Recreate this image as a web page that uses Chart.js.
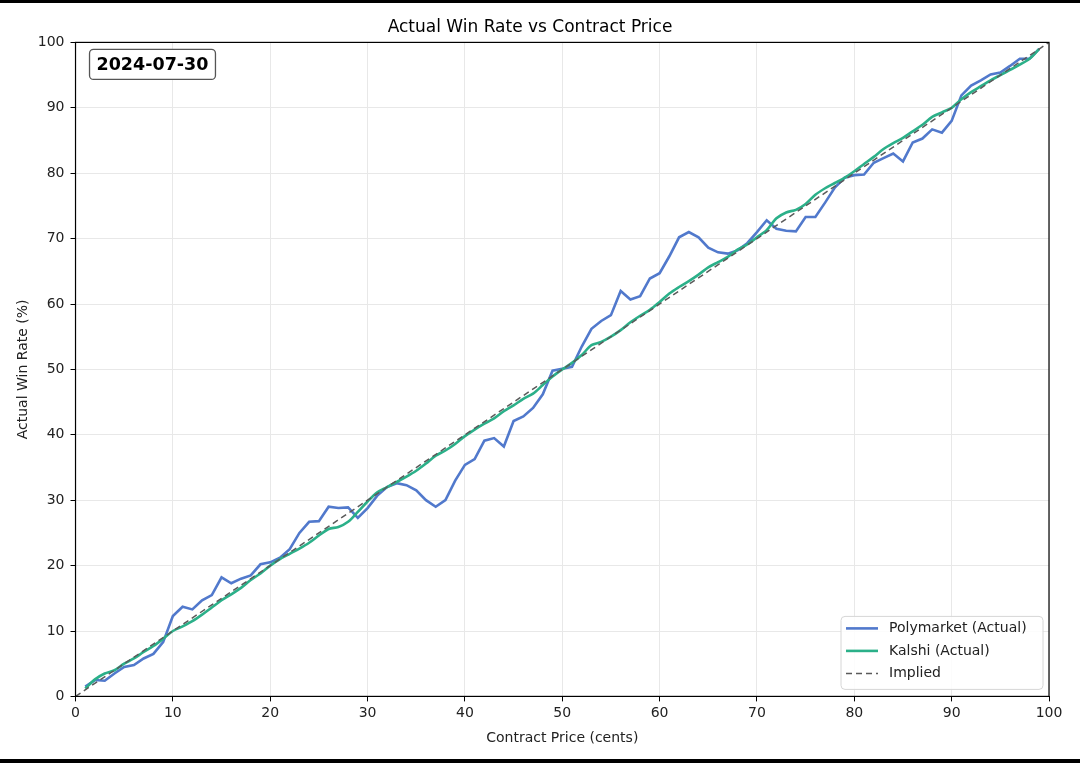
<!DOCTYPE html>
<html>
<head>
<meta charset="utf-8">
<script src="https://cdn.jsdelivr.net/npm/chart.js@4.4.1/dist/chart.umd.min.js"></script>
<style>
  html, body { margin: 0; padding: 0; background: #fff; }
  #wrap { position: relative; width: 1080px; height: 763px; }
  .bar { position: absolute; left: 0; width: 1080px; background: #000; }
</style>
</head>
<body>
<div id="wrap">
  <canvas id="winChart"></canvas>
  <div class="bar" style="top:0;height:3px"></div>
  <div class="bar" style="top:759px;height:4px"></div>
</div>
<script>
// contract price in cents
const cents = [];
for (let c = 1; c <= 99; c++) cents.push(c);

const polymarket = [
  1.5, 2.5, 2.4, 3.5, 4.5, 4.8, 5.8, 6.5, 8.3, 12.3,
  13.7, 13.3, 14.7, 15.5, 18.2, 17.3, 18.0, 18.5, 20.2, 20.5,
  21.2, 22.5, 25.0, 26.7, 26.8, 29.0, 28.8, 28.9, 27.3, 28.8,
  30.7, 32.0, 32.6, 32.3, 31.5, 30.0, 29.0, 30.0, 33.0, 35.4,
  36.3, 39.1, 39.5, 38.2, 42.1, 42.8, 44.1, 46.2, 49.8, 50.1,
  50.4, 53.5, 56.2, 57.4, 58.3, 62.0, 60.7, 61.2, 63.9, 64.7,
  67.3, 70.2, 71.0, 70.2, 68.6, 67.9, 67.7, 68.2, 69.3, 71.0,
  72.8, 71.5, 71.2, 71.1, 73.3, 73.3, 75.5, 77.8, 79.3, 79.7,
  79.8, 81.6, 82.3, 83.0, 81.8, 84.7, 85.3, 86.7, 86.2, 88.0,
  91.9, 93.4, 94.2, 95.1, 95.4, 96.4, 97.5, 97.5, 99.0
];

const kalshi = [
  1.2, 2.6, 3.5, 4.0, 5.0, 5.8, 6.8, 7.7, 8.8, 10.0,
  10.7, 11.5, 12.5, 13.6, 14.7, 15.6, 16.6, 17.8, 18.8, 20.0,
  21.0, 21.8, 22.6, 23.5, 24.6, 25.6, 25.9, 26.7, 28.2, 29.8,
  31.2, 32.0, 32.8, 33.6, 34.5, 35.6, 36.8, 37.6, 38.6, 39.8,
  40.8, 41.7, 42.5, 43.6, 44.5, 45.5, 46.3, 47.6, 48.9, 50.0,
  51.0, 52.2, 53.7, 54.2, 55.0, 56.0, 57.2, 58.2, 59.1, 60.3,
  61.6, 62.6, 63.5, 64.5, 65.6, 66.4, 67.2, 68.3, 69.1, 70.2,
  71.3, 73.1, 74.0, 74.4, 75.3, 76.7, 77.7, 78.5, 79.3, 80.3,
  81.4, 82.5, 83.7, 84.6, 85.4, 86.4, 87.4, 88.6, 89.3, 90.0,
  91.3, 92.4, 93.3, 94.2, 95.0, 95.8, 96.6, 97.5, 99.0
];

const impliedX = [0, 100];
const impliedY = [0, 100];

const xTicks = [0, 10, 20, 30, 40, 50, 60, 70, 80, 90, 100];
const yTicks = [0, 10, 20, 30, 40, 50, 60, 70, 80, 90, 100];
const dateLabel = '2024-07-30';

const FONT = "'DejaVu Sans', sans-serif";
const toPoints = (xs, ys) => xs.map((x, i) => ({ x: x, y: ys[i] }));

// black frame round the plot area, plus the date box and legend
const decorations = {
  id: 'decorations',
  afterDraw(chart) {
    const { ctx, chartArea: a } = chart;
    ctx.save();
    ctx.strokeStyle = '#000';
    ctx.lineWidth = 1.2;
    ctx.strokeRect(a.left, a.top, a.right - a.left, a.bottom - a.top);

    // date box
    ctx.font = 'bold 17.5px ' + FONT;
    const tw = ctx.measureText(dateLabel).width;
    const bx = a.left + 14, by = a.top + 7, bw = tw + 14, bh = 30;
    ctx.beginPath();
    ctx.roundRect(bx, by, bw, bh, 4);
    ctx.fillStyle = '#fff';
    ctx.fill();
    ctx.strokeStyle = '#555';
    ctx.lineWidth = 1.3;
    ctx.stroke();
    ctx.fillStyle = '#000';
    ctx.textAlign = 'center';
    ctx.textBaseline = 'middle';
    ctx.fillText(dateLabel, bx + bw / 2, by + bh / 2 + 1);

    // legend
    const ds = chart.data.datasets;
    const lx = a.right - 208, ly = a.bottom - 80, lw = 202, lh = 73;
    ctx.beginPath();
    ctx.roundRect(lx, ly, lw, lh, 4);
    ctx.fillStyle = 'rgba(255,255,255,0.85)';
    ctx.fill();
    ctx.strokeStyle = '#d6d6d6';
    ctx.lineWidth = 1;
    ctx.stroke();
    ctx.font = '14px ' + FONT;
    ctx.textAlign = 'left';
    ds.forEach((d, i) => {
      const yy = ly + 12 + i * 22.5;
      ctx.beginPath();
      ctx.setLineDash(d.borderDash || []);
      ctx.strokeStyle = d.borderColor;
      ctx.lineWidth = d.borderWidth;
      ctx.moveTo(lx + 5, yy);
      ctx.lineTo(lx + 37, yy);
      ctx.stroke();
      ctx.setLineDash([]);
      ctx.fillStyle = '#222';
      ctx.fillText(d.label, lx + 48, yy);
    });
    ctx.restore();
  }
};

new Chart(document.getElementById('winChart'), {
  type: 'line',
  data: {
    datasets: [
      {
        label: 'Polymarket (Actual)',
        data: toPoints(cents, polymarket),
        borderColor: '#5179cc',
        borderWidth: 2.6,
        pointRadius: 0,
        tension: 0,
        order: 2
      },
      {
        label: 'Kalshi (Actual)',
        data: toPoints(cents, kalshi),
        borderColor: '#2bb089',
        borderWidth: 2.6,
        pointRadius: 0,
        tension: 0.3,
        order: 1
      },
      {
        label: 'Implied',
        data: toPoints(impliedX, impliedY),
        borderColor: '#5a5a5a',
        borderWidth: 1.5,
        borderDash: [6, 4],
        pointRadius: 0,
        order: 0
      }
    ]
  },
  options: {
    responsive: true,
    maintainAspectRatio: false,
    animation: false,
    layout: { padding: { left: 11, right: 31, top: 6, bottom: 12 } },
    plugins: {
      legend: { display: false },
      tooltip: { enabled: false },
      title: {
        display: true,
        text: 'Actual Win Rate vs Contract Price',
        color: '#000',
        font: { family: FONT, size: 17, weight: 'normal' },
        padding: { top: 11, bottom: 5 }
      }
    },
    scales: {
      x: {
        type: 'linear',
        min: 0,
        max: 100,
        afterBuildTicks: axis => { axis.ticks = xTicks.map(v => ({ value: v })); },
        grid: { color: '#e8e8e8', tickColor: '#000', tickLength: 5 },
        border: { display: false },
        ticks: { color: '#222', font: { family: FONT, size: 14 }, padding: 4, maxRotation: 0 },
        title: {
          display: true,
          text: 'Contract Price (cents)',
          color: '#222',
          font: { family: FONT, size: 14 },
          padding: { top: 4 }
        }
      },
      y: {
        min: 0,
        max: 100,
        afterBuildTicks: axis => { axis.ticks = yTicks.map(v => ({ value: v })); },
        grid: { color: '#e8e8e8', tickColor: '#000', tickLength: 5 },
        border: { display: false },
        ticks: { color: '#222', font: { family: FONT, size: 14 }, padding: 6 },
        title: {
          display: true,
          text: 'Actual Win Rate (%)',
          color: '#222',
          font: { family: FONT, size: 14 },
          padding: { bottom: 0 }
        }
      }
    }
  },
  plugins: [decorations]
});
</script>
</body>
</html>
